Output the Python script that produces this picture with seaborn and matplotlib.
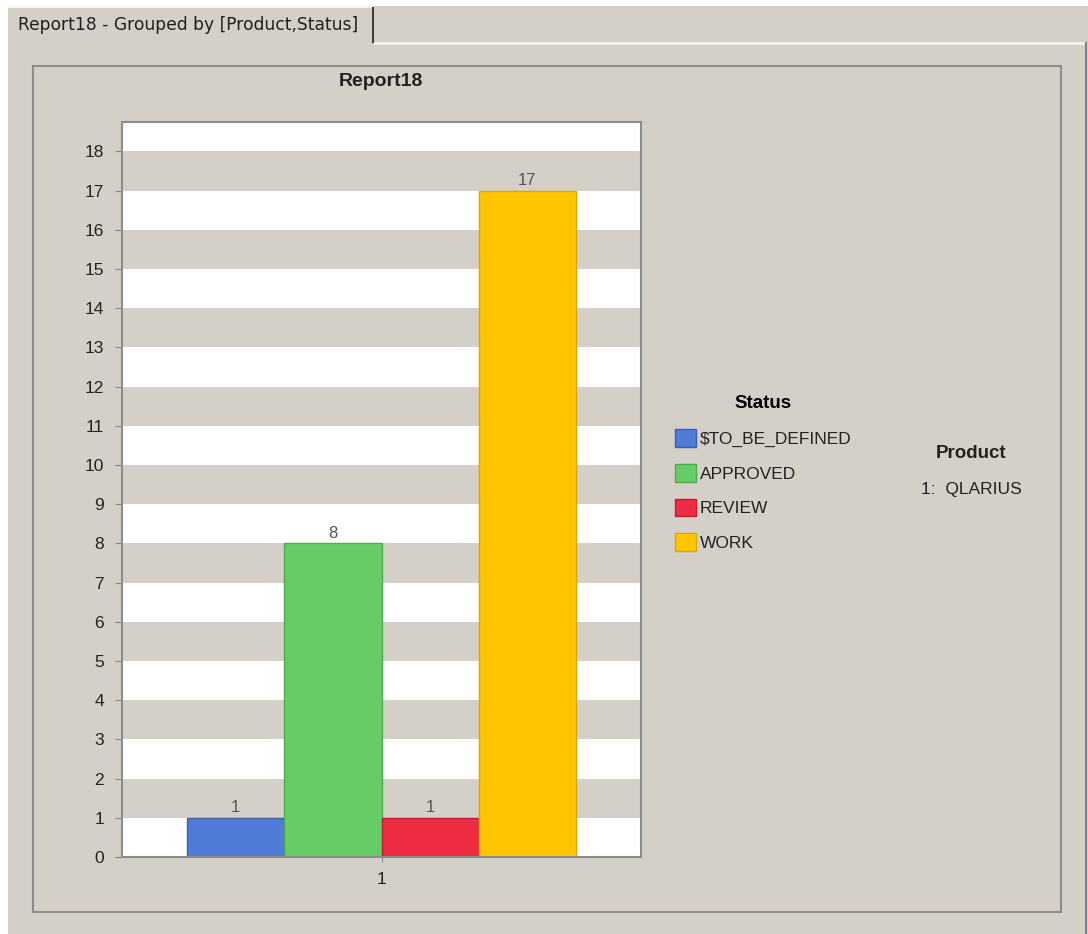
import matplotlib
matplotlib.use('Agg')
import matplotlib.pyplot as plt
import seaborn as sns
import pandas as pd
from matplotlib.patches import Rectangle
from matplotlib.lines import Line2D

# Chart data
product = ['1']
statuses = ['$TO_BE_DEFINED', 'APPROVED', 'REVIEW', 'WORK']
counts = [1, 8, 1, 17]
colors = ['#507BD6', '#66CC66', '#EE2D44', '#FFC600']
edge_colors = ['#3A5FB0', '#4EAA4E', '#C01F33', '#D9A800']
y_ticks = list(range(0, 19))
product_names = ['1:  QLARIUS']

df = pd.DataFrame({'Product': product * len(statuses), 'Status': statuses, 'Count': counts})

W, H = 1088, 934
BG = '#D4D0C8'
fig = plt.figure(figsize=(W / 100, H / 100), dpi=100, facecolor=BG)
plt.rcParams['font.family'] = ['Liberation Sans', 'DejaVu Sans']


def px_rect(x0, y0, x1, y1, **kw):
    # rectangle given in pixel coords (top-left origin)
    fig.patches.append(Rectangle((x0 / W, 1 - y1 / H), (x1 - x0) / W, (y1 - y0) / H,
                                 transform=fig.transFigure, **kw))


def px_line(x0, y0, x1, y1, **kw):
    fig.lines.append(Line2D([x0 / W, x1 / W], [1 - y0 / H, 1 - y1 / H],
                            transform=fig.transFigure, **kw))


# window chrome
px_rect(0, 0, W, 6, facecolor='white', edgecolor='none')
px_rect(0, 0, 8, H, facecolor='white', edgecolor='none')
px_line(375, 43, 1085, 43, color='#F4F3EF', lw=2)
px_line(1086, 43, 1086, H, color='#808080', lw=1.5)
px_line(8, 7, 372, 7, color='#F4F3EF', lw=1.5)
px_line(373, 8, 373, 42, color='#404040', lw=1.5)
fig.text(18 / W, 1 - 25 / H, 'Report18 - Grouped by [Product,Status]',
         fontsize=12.3, family='DejaVu Sans', color='#202020', va='center', ha='left')
# inner panel
px_rect(33, 66, 1061, 912, facecolor='none', edgecolor='#8C8C8C', lw=1.5)

ax = fig.add_axes([122 / W, 1 - 857 / H, 519 / W, 735 / H])
ax.set_facecolor('white')
for k in range(1, 18, 2):
    ax.axhspan(k, k + 1, color=BG, lw=0, zorder=0)

sns.barplot(data=df, x='Product', y='Count', hue='Status', hue_order=statuses,
            palette=colors, saturation=1, width=0.75, ax=ax, zorder=2, legend=False)
for c, ec in zip(ax.containers, edge_colors):
    for patch in c:
        patch.set_edgecolor(ec)
        patch.set_linewidth(1)
    ax.bar_label(c, labels=[str(int(v)) for v in c.datavalues], padding=2,
                 fontsize=12, color='#555555')

ax.set_ylim(0, 18.75)
ax.set_xlim(-0.5, 0.5)
ax.set_yticks(y_ticks)
ax.set_xlabel('')
ax.set_ylabel('')
ax.tick_params(axis='y', length=5, color='#888888', labelsize=12.5, labelcolor='#222222', pad=8)
ax.tick_params(axis='x', length=7, color='#888888', labelsize=12.5, labelcolor='#222222',
               pad=7, direction='inout')
for s in ax.spines.values():
    s.set_color('#8C8C8C')
    s.set_linewidth(1.5)
ax.grid(False)

fig.text(381 / W, 1 - 82 / H, 'Report18', fontsize=14, fontweight='bold',
         ha='center', va='center', color='#222222')

# legend
handles = [Rectangle((0, 0), 1, 1, facecolor=c, edgecolor=e) for c, e in zip(colors, edge_colors)]
leg = fig.legend(handles, statuses, title='Status', loc='upper left',
                 bbox_to_anchor=(668 / W, 1 - 388 / H), frameon=False,
                 fontsize=12.5, title_fontproperties={'weight': 'bold', 'size': 13.5},
                 handlelength=1.2, handleheight=1.2, handletextpad=0.25,
                 labelspacing=0.98, borderaxespad=0)
for t in leg.get_texts():
    t.set_color('#222222')

fig.text(971 / W, 1 - 453 / H, 'Product', fontsize=13.5, fontweight='bold',
         ha='center', va='center', color='#222222')
fig.text(971 / W, 1 - 490 / H, product_names[0], fontsize=12.5,
         ha='center', va='center', color='#222222')

fig.savefig('out.png', dpi=100, facecolor=BG)
